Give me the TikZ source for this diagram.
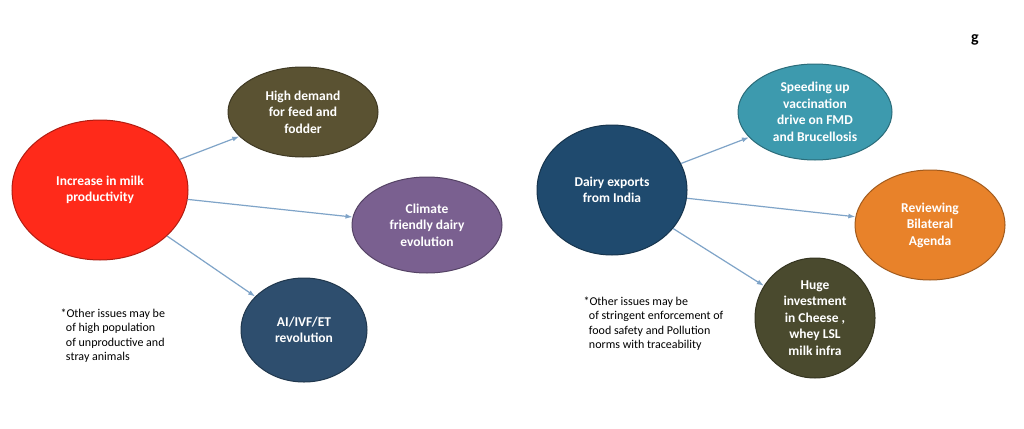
\documentclass[tikz,border=0pt]{standalone}
\usepackage{fontspec}
\setmainfont{Carlito}
\begin{document}
\begin{tikzpicture}[x=1pt,y=-1pt,
  bub/.style={ellipse,draw=#1!70!black,line width=1pt,fill=#1,text=white,font=\bfseries\fontsize{13.5}{16.5}\selectfont,align=center,inner sep=0pt},
  arr/.style={-{Latex[length=7pt,width=5pt]},draw=arrblue,line width=1.2pt},
  note/.style={font=\fontsize{12}{14.5}\selectfont,align=left,anchor=north west}]
\usetikzlibrary{shapes.geometric,arrows.meta}
\definecolor{arrblue}{HTML}{7FA4C8}
\definecolor{cred}{HTML}{FF2A1A}
\definecolor{colive}{HTML}{5A5232}
\definecolor{cpurple}{HTML}{7A6090}
\definecolor{cblue}{HTML}{2E4E6E}
\definecolor{cnavy}{HTML}{1F4A6E}
\definecolor{cteal}{HTML}{3D9AAE}
\definecolor{corange}{HTML}{E8822A}
\definecolor{cdolive}{HTML}{4A4A2E}
\useasboundingbox (0,0) rectangle (1024,428);
\fill[white] (0,0) rectangle (1024,428);
\node[bub=cred,minimum width=176pt,minimum height=140pt] (a) at (100,190) {Increase in milk\\productivity};
\node[bub=colive,minimum width=150pt,minimum height=90pt] (b) at (303,112) {High demand\\for feed and\\fodder};
\node[bub=cpurple,minimum width=150pt,minimum height=96pt] (c) at (427,225) {Climate\\friendly dairy\\evolution};
\node[bub=cblue,minimum width=126pt,minimum height=104pt] (d) at (304,330) {AI/IVF/ET\\revolution};
\node[bub=cnavy,minimum width=150pt,minimum height=130pt] (e) at (612,190) {Dairy exports\\from India};
\node[bub=cteal,minimum width=154pt,minimum height=96pt] (f) at (815,112) {Speeding up\\vaccination\\drive on FMD\\and Brucellosis};
\node[bub=corange,minimum width=150pt,minimum height=110pt] (g) at (930,225) {Reviewing\\Bilateral\\Agenda};
\node[bub=cdolive,minimum width=120pt,minimum height=120pt] (h) at (815,318) {Huge\\investment\\in Cheese ,\\whey LSL\\milk infra};
\draw[arr] (a) -- (b);
\draw[arr] (a) -- (c);
\draw[arr] (a) -- (d);
\draw[arr] (e) -- (f);
\draw[arr] (e) -- (g);
\draw[arr] (e) -- (h);
\node[note] (n1) at (57,305) {*Other issues may be\\\ \ of high population\\\ \ of unproductive and\\\ \ stray animals};
\node[note] (n2) at (580,293) {*Other issues may be\\\ \ of stringent enforcement of\\\ \ food safety and Pollution\\\ \ norms with traceability};
\node[font=\bfseries\fontsize{16}{16}\selectfont,inner sep=0] (m) at (975,40) {g};
\end{tikzpicture}
\end{document}
